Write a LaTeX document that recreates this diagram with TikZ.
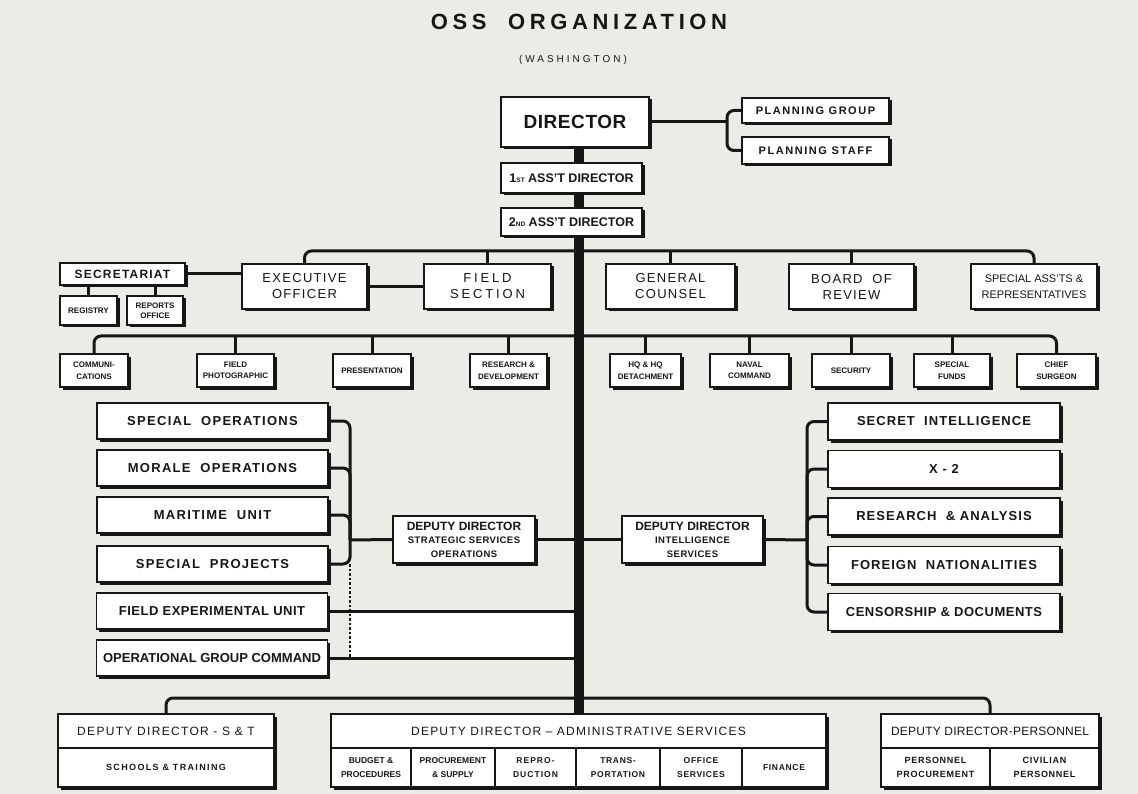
\documentclass[tikz,border=0pt]{standalone}
\usepackage{fontspec}
\setmainfont{Liberation Sans}
\usetikzlibrary{shadows}
\definecolor{paper}{RGB}{236,235,230}
\definecolor{ink}{RGB}{22,22,22}
\newcommand{\ls}[1]{\addfontfeature{LetterSpace=#1}}
\newcommand{\smallsup}[1]{{\fontsize{6.5}{7}\selectfont #1}}
\tikzset{box/.style={draw=ink, line width=1.3pt, fill=white, inner sep=0pt, align=center, text=ink,
  drop shadow={shadow xshift=2.5pt, shadow yshift=-2.5pt, fill=ink, opacity=1}}}
\tikzset{txt/.style={inner sep=0pt, align=center, text=ink}}
\tikzset{conn/.style={draw=ink, line width=3pt, rounded corners=7pt}}
\tikzset{spine/.style={draw=ink, line width=10pt}}
\tikzset{rule/.style={draw=ink, line width=1.3pt}}
\tikzset{rowone/.style={box, minimum width=#1, minimum height=45, font=\fontsize{13}{16}\selectfont\ls{10}}}
\tikzset{rowtwo/.style={box, minimum width=#1, minimum height=33, font=\bfseries\fontsize{8}{11.5}\selectfont}}
\tikzset{sidebox/.style={box, minimum width=231, minimum height=36, font=\bfseries\fontsize{13}{15}\selectfont\ls{10}}}
\tikzset{deputy/.style={box, minimum width=142, minimum height=47, font=\bfseries\fontsize{12}{13.5}\selectfont}}
\tikzset{subtxt/.style={txt, font=\bfseries\fontsize{8.5}{14}\selectfont}}

\begin{document}
\begin{tikzpicture}[x=1pt, y=-1pt]
\useasboundingbox (0,0) rectangle (1138,794);
\fill[paper] (0,0) rectangle (1138,794);

\node[txt, font=\bfseries\fontsize{22}{24}\selectfont\ls{21}] (title) at (579,22) {OSS\ \ ORGANIZATION};
\node[txt, font=\fontsize{10}{12}\selectfont\ls{30}] (wash) at (573,60) {(WASHINGTON)};

% top of the chain
\node[box, minimum width=148, minimum height=50, font=\bfseries\fontsize{19}{22}\selectfont\ls{3}] (director) at (575,122) {DIRECTOR};
\node[box, minimum width=141, minimum height=30, font=\bfseries\fontsize{12.5}{14}\selectfont] (ast1) at (571.5,178) {1\smallsup{ST} ASS'T DIRECTOR};
\node[box, minimum width=141, minimum height=28, font=\bfseries\fontsize{12.5}{14}\selectfont] (ast2) at (571.5,222) {2\smallsup{ND} ASS'T DIRECTOR};
\node[box, minimum width=147, minimum height=25, font=\bfseries\fontsize{11}{13}\selectfont\ls{14}] (pg) at (815.5,110.5) {PLANNING GROUP};
\node[box, minimum width=147, minimum height=27, font=\bfseries\fontsize{11}{13}\selectfont\ls{14}] (ps) at (815.5,150.5) {PLANNING STAFF};

% first row
\node[box, minimum width=125, minimum height=22, font=\bfseries\fontsize{12}{14}\selectfont\ls{10}] (secret) at (122.5,274) {SECRETARIAT};
\node[box, minimum width=57, minimum height=29, font=\bfseries\fontsize{8}{10}\selectfont] (registry) at (88.5,310.5) {REGISTRY};
\node[box, minimum width=56, minimum height=29, font=\bfseries\fontsize{8}{9.5}\selectfont] (reports) at (155,310.5) {REPORTS\\OFFICE};
\node[rowone=125] (exec) at (304.5,286.5) {EXECUTIVE\\OFFICER};
\node[rowone=127, font=\fontsize{13}{16}\selectfont\ls{22}] (field) at (487.5,286.5) {FIELD\\SECTION};
\node[rowone=129] (counsel) at (670.5,286.5) {GENERAL\\COUNSEL};
\node[rowone=125] (board) at (851.5,286.5) {BOARD\ \ OF\\REVIEW};
\node[rowone=126, font=\fontsize{11}{16}\selectfont] (special) at (1034,286.5) {SPECIAL ASS'TS \&\\REPRESENTATIVES};

% second row
\node[rowtwo=68] (comm) at (94,370.5) {COMMUNI-\\CATIONS};
\node[rowtwo=77] (photo) at (235.5,370.5) {FIELD\\PHOTOGRAPHIC};
\node[rowtwo=78] (pres) at (372,370.5) {PRESENTATION};
\node[rowtwo=77] (rnd) at (508.5,370.5) {RESEARCH \&\\DEVELOPMENT};
\node[rowtwo=71] (hq) at (645.5,370.5) {HQ \& HQ\\DETACHMENT};
\node[rowtwo=79] (naval) at (749.5,370.5) {NAVAL\\COMMAND};
\node[rowtwo=78] (security) at (851,370.5) {SECURITY};
\node[rowtwo=76] (funds) at (952,370.5) {SPECIAL\\FUNDS};
\node[rowtwo=79] (surgeon) at (1056.5,370.5) {CHIEF\\SURGEON};

% strategic services side
\node[sidebox] (so) at (212.5,421) {SPECIAL\ \ OPERATIONS};
\node[sidebox] (mo) at (212.5,468) {MORALE\ \ OPERATIONS};
\node[sidebox] (mu) at (212.5,515) {MARITIME\ \ UNIT};
\node[sidebox] (sp) at (212.5,564) {SPECIAL\ \ PROJECTS};
\node[sidebox, font=\bfseries\fontsize{13}{15}\selectfont\ls{4}] (feu) at (212,611) {FIELD EXPERIMENTAL UNIT};
\node[sidebox, font=\bfseries\fontsize{13}{15}\selectfont] (ogc) at (212,658) {OPERATIONAL GROUP COMMAND};
\node[deputy] (ddsso) at (464,539.5) {DEPUTY DIRECTOR\\{\fontsize{9.5}{11}\selectfont\ls{5}STRATEGIC SERVICES}\\{\fontsize{9.5}{11}\selectfont\ls{5}OPERATIONS}};

% intelligence side
\node[deputy, minimum width=141] (ddi) at (692.5,539.5) {DEPUTY DIRECTOR\\{\fontsize{9.5}{11}\selectfont\ls{5}INTELLIGENCE}\\{\fontsize{9.5}{11}\selectfont\ls{5}SERVICES}};
\node[sidebox, minimum width=232, minimum height=37, font=\bfseries\fontsize{13}{15}\selectfont\ls{8}] (si) at (944,421.5) {SECRET\ \ INTELLIGENCE};
\node[sidebox, minimum width=232, minimum height=37, font=\bfseries\fontsize{13}{15}\selectfont\ls{8}] (x2) at (944,469) {X - 2};
\node[sidebox, minimum width=232, minimum height=37, font=\bfseries\fontsize{13}{15}\selectfont\ls{8}] (ra) at (944,516.5) {RESEARCH\ \ \& ANALYSIS};
\node[sidebox, minimum width=232, minimum height=37, font=\bfseries\fontsize{13}{15}\selectfont\ls{8}] (fn) at (944,565) {FOREIGN\ \ NATIONALITIES};
\node[sidebox, minimum width=232, minimum height=37, font=\bfseries\fontsize{13}{15}\selectfont\ls{4}] (cd) at (944,612) {CENSORSHIP \& DOCUMENTS};

% bottom row
\node[box, minimum width=216, minimum height=73] (st) at (166,750.5) {};
\node[box, minimum width=495, minimum height=73] (admin) at (578.5,750.5) {};
\node[box, minimum width=218, minimum height=73] (pers) at (990,750.5) {};
\draw[rule] (st.west |- 0,748) -- (st.east |- 0,748);
\draw[rule] (admin.west |- 0,748) -- (admin.east |- 0,748);
\draw[rule] (pers.west |- 0,748) -- (pers.east |- 0,748);
\foreach \xx in {411,495,576,660,742}
  \draw[rule] (\xx,748) -- (\xx,748 |- admin.south);
\draw[rule] (990,748) -- (990,748 |- pers.south);
\node[txt, font=\fontsize{12}{14}\selectfont\ls{11}] (sthead) at (166,731) {DEPUTY DIRECTOR - S \& T};
\node[txt, font=\bfseries\fontsize{9}{11}\selectfont\ls{15}] (stsub) at (166,767.5) {SCHOOLS \& TRAINING};
\node[txt, font=\fontsize{12}{14}\selectfont\ls{10}] (adminhead) at (578.5,731) {DEPUTY DIRECTOR -- ADMINISTRATIVE SERVICES};
\node[subtxt] (budget) at (371,767.5) {BUDGET \&\\PROCEDURES};
\node[subtxt] (procure) at (453,767.5) {PROCUREMENT\\\& SUPPLY};
\node[subtxt, font=\bfseries\fontsize{8.5}{14}\selectfont\ls{12}] (repro) at (535.5,767.5) {REPRO-\\DUCTION};
\node[subtxt, font=\bfseries\fontsize{8.5}{14}\selectfont\ls{8}] (trans) at (618,767.5) {TRANS-\\PORTATION};
\node[subtxt, font=\bfseries\fontsize{8.5}{14}\selectfont\ls{8}] (office) at (701,767.5) {OFFICE\\SERVICES};
\node[subtxt, font=\bfseries\fontsize{8.5}{14}\selectfont\ls{8}] (finance) at (784,767.5) {FINANCE};
\node[txt, font=\fontsize{12}{14}\selectfont\ls{2}] (pershead) at (990,731) {DEPUTY DIRECTOR-PERSONNEL};
\node[subtxt, font=\bfseries\fontsize{9}{14}\selectfont\ls{8}] (perproc) at (935.5,767.5) {PERSONNEL\\PROCUREMENT};
\node[subtxt, font=\bfseries\fontsize{9}{14}\selectfont\ls{8}] (civil) at (1044.5,767.5) {CIVILIAN\\PERSONNEL};

% connectors
\coordinate (j1) at (578,251);
\coordinate (j2) at (578,336);
\coordinate (j3) at (578,698);
\coordinate (lb) at (350,540);
\coordinate (rb) at (807,540);
\coordinate (pb) at (727,130);

\fill[white] (feu.east -| lb) rectangle (ogc.east -| j1);

\draw[conn] (pg.west) -| (pb) |- (ps.west);
\draw[conn] (director.east) -- (director.east -| pb);

\draw[conn] (exec.north) |- (j1);
\foreach \nm in {field,counsel,board}
  \draw[conn] (\nm.north) -- (\nm.north |- j1);
\draw[conn] (j1) -| (special.north);
\draw[conn] (secret.east) -- (secret.east -| exec.west);
\draw[conn] (exec.east) -- (field.west);
\draw[conn] (registry.north) -- (registry.north |- secret.south);
\draw[conn] (reports.north) -- (reports.north |- secret.south);

\draw[conn] (comm.north) |- (j2);
\foreach \nm in {photo,pres,rnd,hq,naval,security,funds}
  \draw[conn] (\nm.north) -- (\nm.north |- j2);
\draw[conn] (j2) -| (surgeon.north);

\foreach \nm in {so,mo,mu,sp}
  \draw[conn] (\nm.east) -| (lb);
\draw[conn] (lb) -- (ddsso.west);
\draw[conn] (ddsso.east) -- (ddsso.east -| j1);
\draw[ink, line width=2.5pt, dash pattern=on 2.5pt off 2pt] (sp.east -| lb) -- (ogc.east -| lb);
\draw[conn] (feu.east) -- (feu.east -| j1);
\draw[conn] (ogc.east) -- (ogc.east -| j1);

\draw[conn] (ddi.west) -- (ddi.west -| j1);
\draw[conn] (ddi.east) -- (rb);
\foreach \nm in {si,x2,ra,fn,cd}
  \draw[conn] (rb) |- (\nm.west);

\draw[conn] (st.north) |- (j3);
\draw[conn] (j3) -| (pers.north);

% main line
\draw[spine] (director.south -| admin.north) -- (ast1.north -| admin.north);
\draw[spine] (ast1.south -| admin.north) -- (ast2.north -| admin.north);
\draw[spine] (ast2.south -| admin.north) -- (admin.north);
\end{tikzpicture}
\end{document}
